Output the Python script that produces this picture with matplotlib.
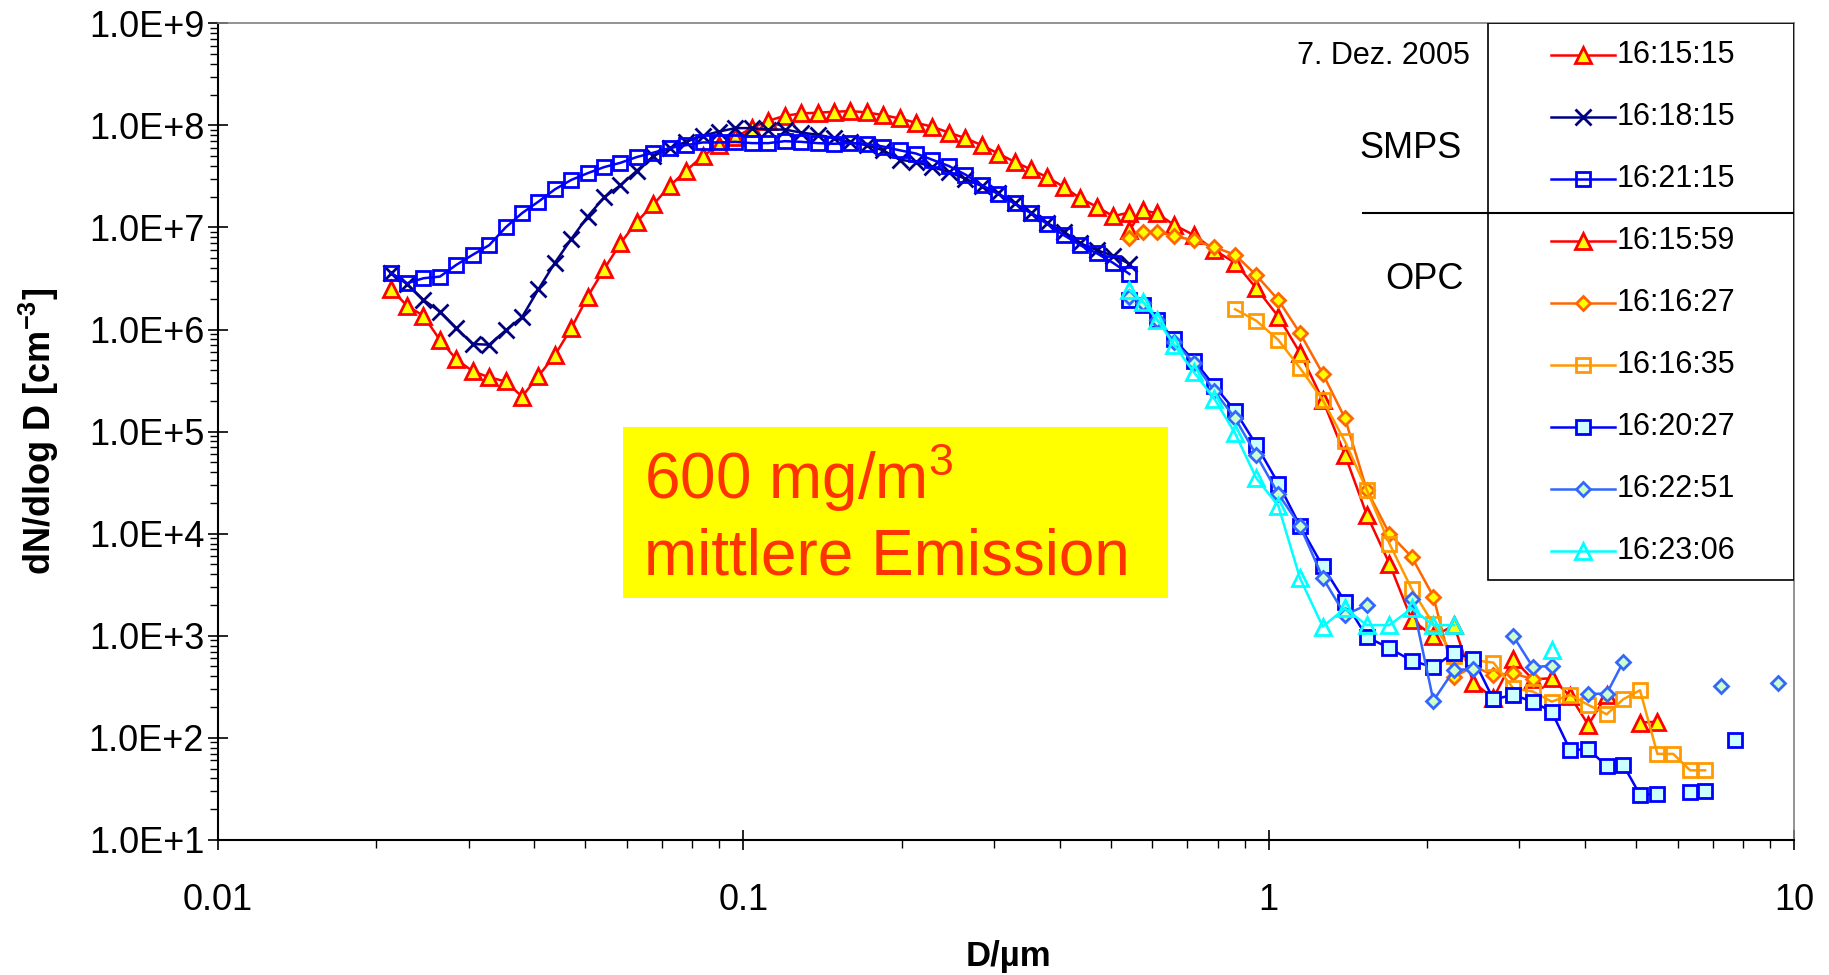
import numpy as np
import matplotlib
matplotlib.use("Agg")
import matplotlib.pyplot as plt
from matplotlib.ticker import LogLocator, FuncFormatter, NullFormatter
from matplotlib.patches import Rectangle
from matplotlib.lines import Line2D

plt.rcParams["font.family"] = ["Liberation Sans", "DejaVu Sans"]
plt.rcParams["mathtext.fontset"] = "custom"
plt.rcParams["mathtext.rm"] = "Liberation Sans"
plt.rcParams["mathtext.bf"] = "Liberation Sans:bold"
plt.rcParams["mathtext.default"] = "regular"

nan = np.nan

# ---- SMPS scans (diameter in µm, dN/dlogD in cm^-3) ----
smps_d = [0.02131, 0.02290, 0.02461, 0.02645, 0.02842, 0.03054, 0.03282, 0.03527,
          0.03790, 0.04073, 0.04377, 0.04703, 0.05054, 0.05431, 0.05836, 0.06272,
          0.06740, 0.07243, 0.07783, 0.08364, 0.08988, 0.09658, 0.1038, 0.1115,
          0.1199, 0.1288, 0.1384, 0.1488, 0.1599, 0.1718, 0.1846, 0.1984,
          0.2131, 0.2290, 0.2461, 0.2645, 0.2842, 0.3054, 0.3282, 0.3527,
          0.3790, 0.4073, 0.4377, 0.4703, 0.5054, 0.5431]

smps_161515 = [2.5e6, 1.71e6, 1.36e6, 7.9e5, 5.1e5, 3.9e5, 3.4e5, 3.1e5, 2.2e5, 3.5e5,
               5.6e5, 1.03e6, 2.1e6, 3.9e6, 7.0e6, 1.14e7, 1.68e7, 2.55e7, 3.6e7, 5.0e7,
               6.4e7, 7.7e7, 9.4e7, 1.11e8, 1.24e8, 1.31e8, 1.33e8, 1.36e8, 1.38e8, 1.34e8,
               1.26e8, 1.17e8, 1.06e8, 9.7e7, 8.5e7, 7.5e7, 6.4e7, 5.3e7, 4.4e7, 3.7e7,
               3.1e7, 2.5e7, 1.93e7, 1.6e7, 1.29e7, 1.40e7]

smps_161815 = [3.6e6, 2.79e6, 1.95e6, 1.50e6, 1.03e6, 7.2e5, 7.1e5, 9.8e5, 1.32e6, 2.48e6,
               4.5e6, 7.7e6, 1.28e7, 1.97e7, 2.59e7, 3.6e7, 5.0e7, 6.0e7, 6.9e7, 7.9e7,
               8.7e7, 9.4e7, 9.4e7, 9.1e7, 9.1e7, 8.5e7, 8.1e7, 7.5e7, 6.8e7, 6.4e7,
               5.7e7, 4.6e7, 4.4e7, 3.9e7, 3.5e7, 3.0e7, 2.55e7, 2.16e7, 1.72e7, 1.40e7,
               1.10e7, 9.1e6, 7.0e6, 6.0e6, 5.3e6, 4.4e6]

smps_162115 = [3.6e6, 2.84e6, 3.18e6, 3.3e6, 4.3e6, 5.4e6, 6.7e6, 1.0e7, 1.38e7, 1.79e7,
               2.36e7, 2.92e7, 3.4e7, 3.9e7, 4.3e7, 4.9e7, 5.4e7, 6.0e7, 6.4e7, 6.8e7,
               6.8e7, 6.9e7, 6.7e7, 6.7e7, 7.0e7, 6.9e7, 6.7e7, 6.6e7, 6.7e7, 6.6e7,
               6.2e7, 5.7e7, 5.3e7, 4.6e7, 4.0e7, 3.3e7, 2.6e7, 2.13e7, 1.72e7, 1.38e7,
               1.08e7, 8.4e6, 6.7e6, 5.6e6, 4.5e6, 3.5e6]

# ---- OPC scans ----
opc_d = [0.543, 0.576, 0.614, 0.660, 0.721, 0.788, 0.863, 0.947, 1.043, 1.147,
         1.267, 1.397, 1.537, 1.697, 1.872, 2.058, 2.253, 2.452, 2.677, 2.921,
         3.181, 3.457, 3.746, 4.058, 4.399, 4.732, 5.091, 5.494, 5.890, 6.340,
         6.770, 7.250, 7.720, 9.340]

opc_161559 = [9.4e6, 1.48e7, 1.37e7, 1.06e7, 8.4e6, 6.0e6, 4.5e6, 2.54e6, 1.34e6, 5.9e5,
              2.04e5, 5.9e4, 1.53e4, 5.1e3, 1.43e3, 990, 1.26e3, 347, 245, 590,
              374, 383, 257, 134, 263, nan, 141, 144, nan, nan,
              nan, nan, nan, nan]

opc_161627 = [7.8e6, 9.1e6, 9.1e6, 8.2e6, 7.5e6, 6.4e6, 5.4e6, 3.4e6, 1.95e6, 9.2e5,
              3.7e5, 1.35e5, 2.68e4, 1.0e4, 5.9e3, 2.42e3, 395, 500, 413, 429,
              375, nan, nan, nan, nan, nan, nan, nan, nan, nan,
              nan, nan, nan, nan]

opc_161635 = [nan, nan, nan, nan, nan, nan, 1.58e6, 1.22e6, 7.9e5, 4.2e5,
              2.04e5, 8.0e4, 2.68e4, 8.0e3, 2.86e3, 1.3e3, 630, 575, 546, 305,
              284, 226, 263, 210, 170, 239, 292, 69.5, 69.5, 48,
              48, nan, nan, nan]

opc_162027 = [1.95e6, 1.74e6, 1.24e6, 8.0e5, 4.95e5, 2.8e5, 1.6e5, 7.4e4, 3.1e4, 1.19e4,
              4.8e3, 2.16e3, 975, 753, 570, 491, 684, 593, 238, 263,
              226, 180, 76, 77, 53, 54, 27.6, 28.2, nan, 29.7,
              30.4, nan, 95, nan]

opc_162251 = [2.1e6, 1.83e6, 1.24e6, 7.6e5, 4.7e5, 2.5e5, 1.35e5, 5.9e4, 2.45e4, 1.19e4,
              3.7e3, 1.6e3, 2.0e3, nan, 2.3e3, 231, 462, 472, nan, 990,
              495, 506, nan, 269, 271, 557, nan, nan, nan, nan,
              nan, 320, nan, 345]

opc_162306 = [2.44e6, 1.87e6, 1.24e6, 7.1e5, 3.8e5, 2.1e5, 9.6e4, 3.5e4, 1.87e4, 3.66e3,
              1.23e3, 1.85e3, 1.27e3, 1.27e3, 1.85e3, 1.27e3, 1.27e3, nan, nan, nan,
              nan, 726, nan, nan, nan, nan, nan, nan, nan, nan,
              nan, nan, nan, nan]

labels = ["16:15:15", "16:18:15", "16:21:15",
          "16:15:59", "16:16:27", "16:16:35", "16:20:27", "16:22:51", "16:23:06"]

series = [
    (smps_d, smps_161515, dict(color="#FF0000", marker="^", ms=11, mfc="#FFFF00", mec="#FF0000", mew=2.0)),
    (smps_d, smps_161815, dict(color="#000080", marker="x", ms=11, mfc="none", mec="#000080", mew=2.0)),
    (smps_d, smps_162115, dict(color="#0000FF", marker="s", ms=10, mfc="none", mec="#0000FF", mew=2.0)),
    (opc_d, opc_161559, dict(color="#FF0000", marker="^", ms=11, mfc="#FFFF00", mec="#FF0000", mew=2.0)),
    (opc_d, opc_161627, dict(color="#FF6600", marker="D", ms=7.5, mfc="#FFFF00", mec="#FF6600", mew=2.0)),
    (opc_d, opc_161635, dict(color="#FF9900", marker="s", ms=10, mfc="none", mec="#FF9900", mew=2.0)),
    (opc_d, opc_162027, dict(color="#0000FF", marker="s", ms=10, mfc="#CCFFFF", mec="#0000FF", mew=2.0)),
    (opc_d, opc_162251, dict(color="#3366FF", marker="D", ms=7.5, mfc="#CCFFCC", mec="#3366FF", mew=2.0)),
    (opc_d, opc_162306, dict(color="#00FFFF", marker="^", ms=11, mfc="none", mec="#00FFFF", mew=2.0)),
]

fig = plt.figure(figsize=(18.29, 9.75), dpi=100)
ax = fig.add_axes([0.1192, 0.1386, 0.8617, 0.8375])
ax.set_xscale("log")
ax.set_yscale("log")
ax.set_xlim(0.01, 10)
ax.set_ylim(10, 1e9)

for (x, y, st), lab in zip(series, labels):
    ax.plot(x, y, lw=1.8, label=lab, zorder=4, **st)

# axes frame
for side in ("left", "bottom"):
    ax.spines[side].set_color("black")
    ax.spines[side].set_linewidth(1.5)
for side in ("top", "right"):
    ax.spines[side].set_color("#808080")
    ax.spines[side].set_linewidth(1.2)

ax.xaxis.set_major_locator(LogLocator(base=10, numticks=10))
ax.xaxis.set_minor_locator(LogLocator(base=10, subs=np.arange(2, 10), numticks=20))
ax.yaxis.set_major_locator(LogLocator(base=10, numticks=20))
ax.yaxis.set_minor_locator(LogLocator(base=10, subs=np.arange(2, 10), numticks=40))
ax.xaxis.set_minor_formatter(NullFormatter())
ax.yaxis.set_minor_formatter(NullFormatter())
ax.xaxis.set_major_formatter(FuncFormatter(lambda v, p: f"{v:g}"))
ax.yaxis.set_major_formatter(FuncFormatter(lambda v, p: f"{v:.1E}".replace("E+0", "E+")))

ax.tick_params(which="major", direction="inout", length=14, width=1.2, labelsize=26,
               top=False, right=False)
ax.tick_params(which="minor", direction="out", length=6, width=1.0, top=False, right=False)
ax.tick_params(axis="y", which="major", pad=3)
ax.tick_params(axis="x", which="major", pad=24)

fig.text(0.5511, 0.019, "D/µm", ha="center", va="center", fontsize=25, fontweight="bold")
fig.text(0.021, 0.557, r"dN/dlog D [cm$^{\mathbf{-3}}$]", ha="center", va="center",
         rotation=90, fontsize=26, fontweight="bold")

# legend table
ax.add_patch(Rectangle((0.8058, 0.3183), 1 - 0.8058, 1 - 0.3183, transform=ax.transAxes,
                       fill=False, ec="black", lw=1.2, zorder=6))
ax.add_line(Line2D([0.7262, 1.0], [0.7671, 0.7671], transform=ax.transAxes,
                   color="black", lw=1.5, zorder=6))
ax.text(0.7944, 0.960, "7. Dez. 2005", transform=ax.transAxes, ha="right", va="center",
        fontsize=22, zorder=6)
ax.text(0.789, 0.847, "SMPS", transform=ax.transAxes, ha="right", va="center",
        fontsize=26, zorder=6)
ax.text(0.7905, 0.6857, "OPC", transform=ax.transAxes, ha="right", va="center",
        fontsize=26, zorder=6)

row_px = [54.8 + 62.0 * i for i in range(len(labels))]
for (x, y, st), lab, rp in zip(series, labels, row_px):
    yy = (839.9 - rp) / 816.6
    ax.plot([0.8458, 0.8864], [yy, yy], transform=ax.transAxes, color=st["color"],
            lw=1.8, zorder=6)
    ax.plot([0.8661], [yy], transform=ax.transAxes, linestyle="none", zorder=7,
            marker=st["marker"], ms=st["ms"], mfc=st["mfc"], mec=st["mec"], mew=st["mew"])
    ax.text(0.8877, yy, lab, transform=ax.transAxes, ha="left", va="center",
            fontsize=22, zorder=6)

# annotation box
ax.add_patch(Rectangle((0.2569, 0.2962), 0.6027 - 0.2569, 0.5056 - 0.2962,
                       transform=ax.transAxes, facecolor="#FFFF00", edgecolor="none", zorder=5))
ax.text(0.2702, 0.4175, r"600 mg/m$^{3}$", transform=ax.transAxes, ha="left",
        va="baseline", fontsize=46, color="#FF3300", zorder=6)
ax.text(0.2702, 0.3244, "mittlere Emission", transform=ax.transAxes, ha="left",
        va="baseline", fontsize=46, color="#FF3300", zorder=6)

fig.savefig("out.png", dpi=100)
